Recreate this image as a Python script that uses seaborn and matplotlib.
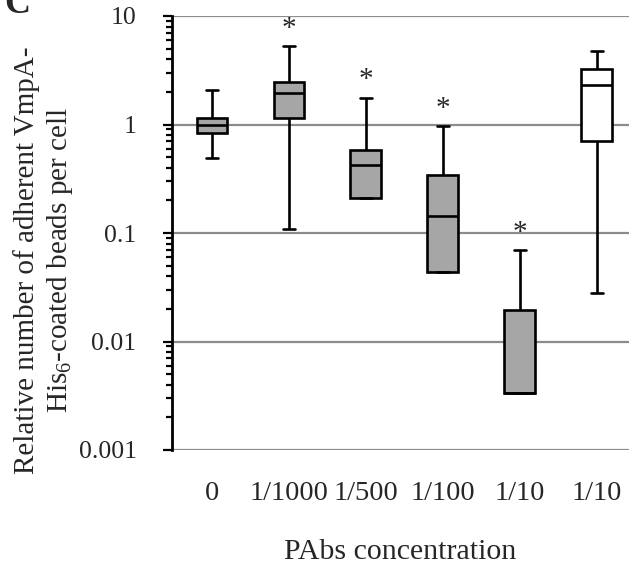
import numpy as np
import pandas as pd
import matplotlib
matplotlib.use("Agg")
import matplotlib.pyplot as plt
import seaborn as sns

# box statistics (log scale)
groups = ["0", "1/1000", "1/500", "1/100", "1/10 a", "1/10 b"]
tick_labels = ["0", "1/1000", "1/500", "1/100", "1/10", "1/10"]
whisker_low = [0.486, 0.11, 0.208, 0.0433, 0.00332, 0.0277]
q1 = [0.84, 1.16, 0.208, 0.0433, 0.00332, 0.71]
median = [0.98, 1.97, 0.42, 0.142, 0.00332, 2.29]
q3 = [1.16, 2.49, 0.576, 0.346, 0.0197, 3.28]
whisker_high = [2.06, 5.24, 1.77, 0.96, 0.069, 4.71]
significant = [False, True, True, True, True, False]
box_colors = ["#a6a6a6"] * 5 + ["#ffffff"]


def build_frame():
    rows = []
    for i, g in enumerate(groups):
        for v in (whisker_low[i], q1[i], median[i], q3[i], whisker_high[i]):
            rows.append({"group": g, "value": v})
    return pd.DataFrame(rows)


def main():
    sns.set_style("white")
    plt.rcParams["font.family"] = ["Liberation Serif", "DejaVu Serif"]
    plt.rcParams["mathtext.default"] = "regular"

    df = build_frame()

    fig = plt.figure(figsize=(6.29, 5.74), dpi=100)
    ax = fig.add_axes([172 / 629, 1 - 450 / 574, 1 - 172 / 629, (450 - 16) / 574])
    ax.set_yscale("log")

    sns.boxplot(data=df, x="group", y="value", hue="group", order=groups,
                palette=box_colors, saturation=1, legend=False, width=0.4,
                whis=(0, 100), linecolor="black", linewidth=1.9,
                showfliers=False, capwidths=0.16, ax=ax)

    ax.set_ylim(0.001, 10)
    ax.set_xlim(-0.52, 5.42)
    ax.set_yticks([0.001, 0.01, 0.1, 1, 10])
    ax.set_yticklabels(["0.001", "0.01", "0.1", "1", "10"])
    ax.yaxis.set_minor_locator(matplotlib.ticker.LogLocator(base=10, subs=np.arange(2, 10)))
    ax.yaxis.set_minor_formatter(matplotlib.ticker.NullFormatter())
    ax.grid(axis="y", which="major", color="#8c8c8c", linewidth=1.6, zorder=0)
    ax.set_axisbelow(True)

    for s in ["top", "right", "bottom"]:
        ax.spines[s].set_visible(False)
    ax.spines["left"].set_color("black")
    ax.spines["left"].set_linewidth(2)

    ax.tick_params(axis="y", which="major", length=6.5, width=1.6, color="black",
                   labelsize=18.5, pad=19, direction="out", left=True)
    ax.tick_params(axis="y", which="minor", length=4.5, width=1.6, color="black",
                   direction="out", left=True)
    ax.tick_params(axis="x", length=0, labelsize=20.5, pad=22)

    ax.set_xticks(range(len(groups)))
    ax.set_xticklabels(tick_labels)

    for i, sig in enumerate(significant):
        if sig:
            ax.annotate("*", xy=(i, whisker_high[i]), xytext=(0, 3),
                        textcoords="offset points", ha="center", va="bottom",
                        fontsize=21)

    ax.set_xlabel("PAbs concentration", fontsize=21.5, labelpad=24)
    ax.set_ylabel("Relative number of adherent VmpA-\nHis$_{6}$-coated beads per cell",
                  fontsize=21, linespacing=1.2)
    ax.yaxis.set_label_coords(-0.213, 0.438)

    fig.text(17 / 629, 1 - 13 / 574, "C", fontsize=26, fontweight="bold",
             ha="center", va="baseline")

    fig.savefig("out.png", dpi=100)


if __name__ == "__main__":
    main()
